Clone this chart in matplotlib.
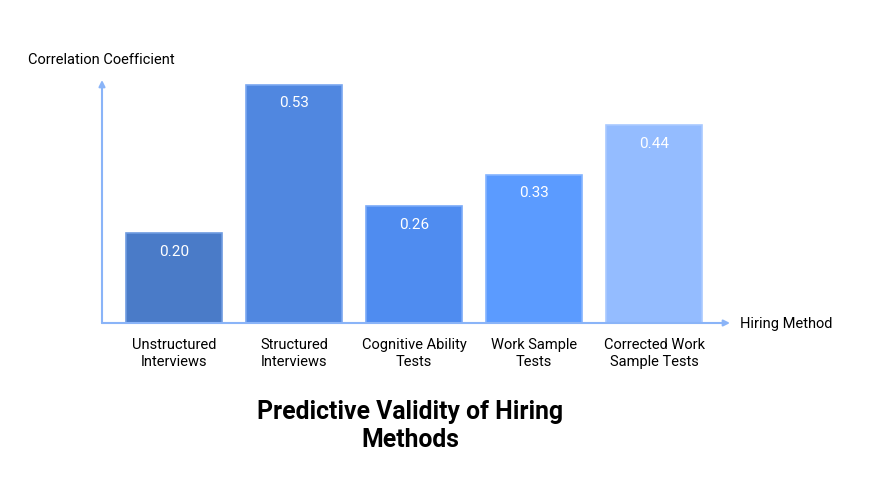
import matplotlib.pyplot as plt

methods = ["Unstructured\nInterviews", "Structured\nInterviews", "Cognitive Ability\nTests",
           "Work Sample\nTests", "Corrected Work\nSample Tests"]
validity = [0.20, 0.53, 0.26, 0.33, 0.44]
bar_colors = ["#4a7bc8", "#5087e0", "#4f8cf0", "#5b9bff", "#94bcff"]
edge_colors = ["#6e9be0", "#7aa7f0", "#7aaaf8", "#84b4ff", "#a9c9ff"]

plt.rcParams['font.family'] = ['Roboto', 'DejaVu Sans']

fig = plt.figure(figsize=(8.7, 5.04), dpi=100)
W, H = 870, 504
ax = fig.add_axes([102 / W, (H - 323) / H, (730 - 102) / W, (323 - 80) / H])

x = range(len(methods))
bars = ax.bar(x, validity, width=0.8, color=bar_colors, edgecolor=edge_colors, linewidth=1.2, zorder=2)

for xi, v in zip(x, validity):
    ax.text(xi, v - 0.042, f"{v:.2f}", ha='center', va='center', color='white', fontsize=11)

ax.set_xlim(-0.6, 4.633)
ax.set_ylim(0, 0.54)

axis_color = "#8ab4f8"
for s in ['top', 'right', 'left', 'bottom']:
    ax.spines[s].set_visible(False)
ax.annotate("", xy=(1, 0), xytext=(0, 0), xycoords='axes fraction',
            arrowprops=dict(arrowstyle='-|>', color=axis_color, lw=1.5, mutation_scale=9, shrinkA=0, shrinkB=0))
ax.annotate("", xy=(0, 1), xytext=(0, 0), xycoords='axes fraction',
            arrowprops=dict(arrowstyle='-|>', color=axis_color, lw=1.5, mutation_scale=9, shrinkA=0, shrinkB=0))

ax.set_yticks([])
ax.set_xticks(list(x))
ax.set_xticklabels(methods, fontsize=10.5, linespacing=1.28)
ax.tick_params(axis='x', length=0, pad=11)

fig.text(28 / W, 1 - 60 / H, "Correlation Coefficient", fontsize=10.5, ha='left', va='center')
fig.text(740 / W, 1 - 324 / H, "Hiring Method", fontsize=10.5, ha='left', va='center')
fig.text(410 / W, 1 - 426 / H, "Predictive Validity of Hiring\nMethods", fontsize=17.8,
         fontweight='bold', ha='center', va='center', linespacing=1.2)

fig.savefig("out.png", dpi=100)
